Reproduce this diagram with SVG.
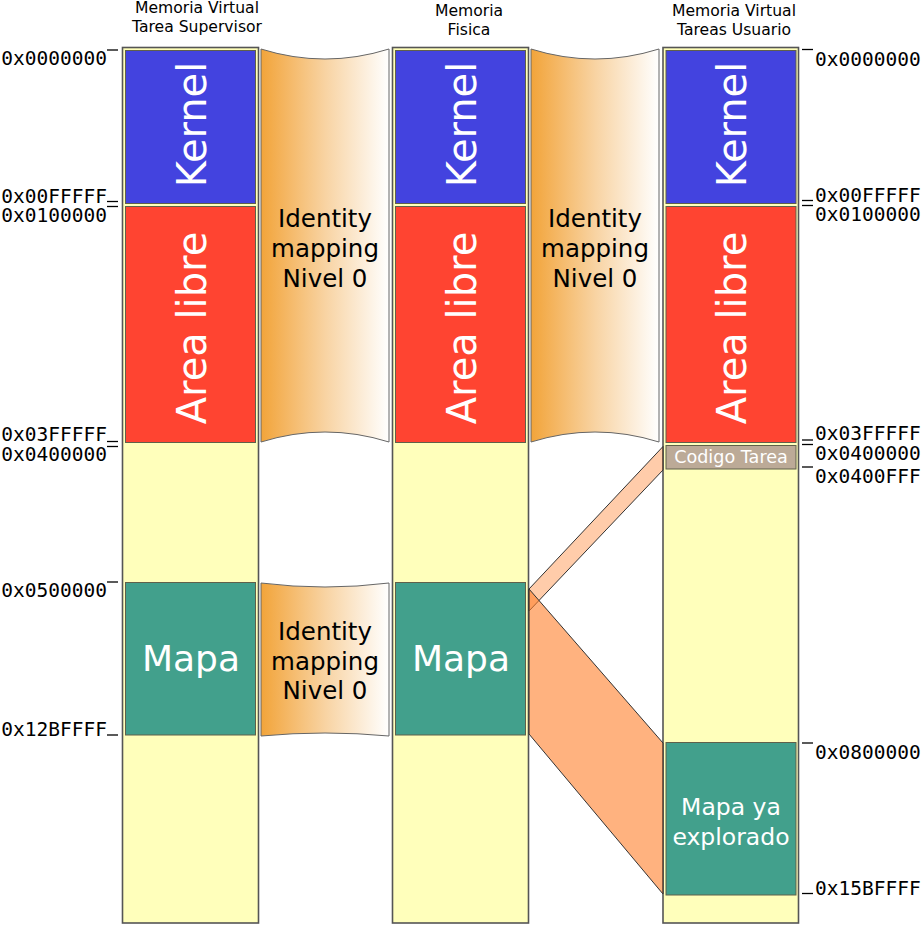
<svg xmlns="http://www.w3.org/2000/svg" width="921" height="925" viewBox="0 0 921 925">
<defs>
<linearGradient id="ribbonGrad" x1="0" y1="0" x2="1" y2="0">
<stop offset="0" stop-color="#f2a43a"/>
<stop offset="0.5" stop-color="#f8d3a2"/>
<stop offset="1" stop-color="#ffffff"/>
</linearGradient>
<style>
.col{fill:#ffffbb;stroke:#555555;stroke-width:1.6}
.kernel{fill:#4343df;stroke:#60604a;stroke-width:1}
.libre{fill:#ff4431;stroke:#60604a;stroke-width:1}
.mapa{fill:#42a08c;stroke:#60604a;stroke-width:1}
.codigo{fill:#bcaa97;stroke:#60604a;stroke-width:1}
.ribbon{fill:url(#ribbonGrad);stroke:#666;stroke-width:1}
.big{font-family:"DejaVu Sans",sans-serif;fill:#ffffff}
.rib{font-family:"DejaVu Sans",sans-serif;font-size:24.5px;fill:#000;text-anchor:middle}
.head{font-family:"DejaVu Sans",sans-serif;font-size:15.6px;fill:#000;text-anchor:middle}
.addr{font-family:"DejaVu Sans Mono",monospace;font-size:19.5px;fill:#000}
.addrL{text-anchor:end}
.tick{stroke:#000;stroke-width:1.3}
.band{stroke:#333;stroke-width:1;fill:#ff7f2a}
</style>
</defs>
<rect width="921" height="925" fill="#ffffff"/>

<g id="headings">
<text class="head" x="197" y="13">Memoria Virtual</text>
<text class="head" x="197" y="31.5">Tarea Supervisor</text>
<text class="head" x="469" y="15.5">Memoria</text>
<text class="head" x="469" y="35">Fisica</text>
<text class="head" x="734" y="16">Memoria Virtual</text>
<text class="head" x="734" y="35">Tareas Usuario</text>
</g>

<g id="col-supervisor">
<rect class="col" x="122.5" y="47.5" width="136" height="875.5"/>
<rect class="kernel" x="125.5" y="50.5" width="130" height="153"/>
<text class="big" font-size="40" text-anchor="middle" transform="translate(205.5,124.5) rotate(-90)">Kernel</text>
<rect class="libre" x="125.5" y="206.5" width="130" height="236"/>
<text class="big" font-size="40" text-anchor="middle" transform="translate(205.5,328) rotate(-90)">Area libre</text>
<rect class="mapa" x="125.5" y="582.5" width="130" height="152.5"/>
<text class="big" font-size="36" text-anchor="middle" x="191" y="671">Mapa</text>
</g>

<g id="col-fisica">
<rect class="col" x="392.5" y="47.5" width="136" height="875.5"/>
<rect class="kernel" x="395.5" y="50.5" width="130" height="153"/>
<text class="big" font-size="40" text-anchor="middle" transform="translate(475.5,124.5) rotate(-90)">Kernel</text>
<rect class="libre" x="395.5" y="206.5" width="130" height="236"/>
<text class="big" font-size="40" text-anchor="middle" transform="translate(475.5,328) rotate(-90)">Area libre</text>
<rect class="mapa" x="395.5" y="582.5" width="130" height="152.5"/>
<text class="big" font-size="36" text-anchor="middle" x="461" y="671">Mapa</text>
</g>

<g id="col-usuario">
<rect class="col" x="663" y="47.5" width="135.5" height="875.5"/>
<rect class="kernel" x="666" y="50.5" width="130" height="153"/>
<text class="big" font-size="40" text-anchor="middle" transform="translate(746,124.5) rotate(-90)">Kernel</text>
<rect class="libre" x="666" y="206.5" width="130" height="236"/>
<text class="big" font-size="40" text-anchor="middle" transform="translate(746,328) rotate(-90)">Area libre</text>
<rect class="codigo" x="666" y="445.5" width="130" height="23.5"/>
<text class="big" font-size="17.6" text-anchor="middle" x="731" y="462.5">Codigo Tarea</text>
<rect class="mapa" x="666" y="742.5" width="130" height="152.5"/>
<text class="big" font-size="23.5" text-anchor="middle" x="731" y="815">Mapa ya</text>
<text class="big" font-size="23.5" text-anchor="middle" x="731" y="845">explorado</text>
</g>

<g id="ribbon-kernel-1">
<path class="ribbon" d="M261,49 Q325,69 389,49 L389,442 Q325,422 261,442 Z"/>
<text class="rib" x="325" y="227">Identity</text>
<text class="rib" x="325" y="257">mapping</text>
<text class="rib" x="325" y="287">Nivel 0</text>
</g>

<g id="ribbon-kernel-2">
<path class="ribbon" d="M531,49 Q595,69 659,49 L659,442 Q595,422 531,442 Z"/>
<text class="rib" x="595" y="227">Identity</text>
<text class="rib" x="595" y="257">mapping</text>
<text class="rib" x="595" y="287">Nivel 0</text>
</g>

<g id="ribbon-mapa">
<path class="ribbon" d="M261,583 Q325,591 389,583 L389,736 Q325,730 261,736 Z"/>
<text class="rib" x="325" y="640">Identity</text>
<text class="rib" x="325" y="670">mapping</text>
<text class="rib" x="325" y="699">Nivel 0</text>
</g>

<g id="connectors">
<polygon class="band" fill-opacity="0.4" points="529,589 663,446.5 663,470 529,611"/>
<polygon class="band" fill-opacity="0.6" points="529,589 663,743 663,894 529,734"/>
</g>

<g id="addresses-left">
<text class="addr addrL" x="107" y="65">0x0000000</text>
<line class="tick" x1="107" y1="50" x2="118" y2="50"/>
<text class="addr addrL" x="107" y="202.5">0x00FFFFF</text>
<line class="tick" x1="107" y1="201.5" x2="118" y2="201.5"/>
<line class="tick" x1="107" y1="206.5" x2="118" y2="206.5"/>
<text class="addr addrL" x="107" y="221.5">0x0100000</text>
<text class="addr addrL" x="107" y="441">0x03FFFFF</text>
<line class="tick" x1="107" y1="441.5" x2="118" y2="441.5"/>
<line class="tick" x1="107" y1="446.5" x2="118" y2="446.5"/>
<text class="addr addrL" x="107" y="460.5">0x0400000</text>
<text class="addr addrL" x="107" y="597">0x0500000</text>
<line class="tick" x1="107" y1="582" x2="118" y2="582"/>
<text class="addr addrL" x="107" y="736">0x12BFFFF</text>
<line class="tick" x1="107" y1="735" x2="118" y2="735"/>
</g>

<g id="addresses-right">
<line class="tick" x1="802" y1="49.5" x2="813" y2="49.5"/>
<text class="addr" x="815" y="65.5">0x0000000</text>
<text class="addr" x="815" y="202">0x00FFFFF</text>
<line class="tick" x1="802" y1="200.5" x2="813" y2="200.5"/>
<line class="tick" x1="802" y1="205.5" x2="813" y2="205.5"/>
<text class="addr" x="815" y="220.5">0x0100000</text>
<text class="addr" x="815" y="440">0x03FFFFF</text>
<line class="tick" x1="802" y1="440" x2="813" y2="440"/>
<line class="tick" x1="802" y1="444.5" x2="813" y2="444.5"/>
<text class="addr" x="815" y="460">0x0400000</text>
<line class="tick" x1="802" y1="467" x2="813" y2="467"/>
<text class="addr" x="815" y="483">0x0400FFF</text>
<line class="tick" x1="802" y1="743" x2="813" y2="743"/>
<text class="addr" x="815" y="758.5">0x0800000</text>
<line class="tick" x1="802" y1="893.5" x2="813" y2="893.5"/>
<text class="addr" x="815" y="895">0x15BFFFF</text>
</g>
</svg>
